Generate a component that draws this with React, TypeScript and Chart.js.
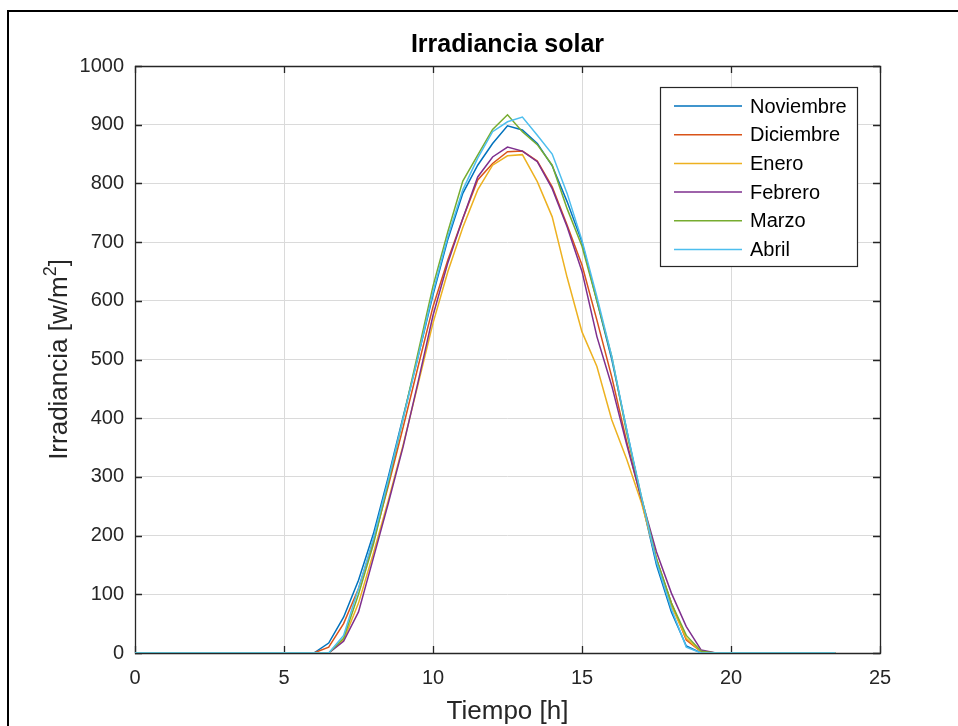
import React, { useEffect, useRef } from "react";
import { Chart, registerables } from "chart.js";

Chart.register(...registerables);

const hours = [
  0, 0.5, 1, 1.5, 2, 2.5, 3, 3.5, 4, 4.5, 5, 5.5, 6, 6.5, 7, 7.5, 8, 8.5, 9, 9.5,
  10, 10.5, 11, 11.5, 12, 12.5, 13, 13.5, 14, 14.5, 15, 15.5, 16, 16.5, 17, 17.5,
  18, 18.5, 19, 19.5, 20, 20.5, 21, 21.5, 22, 22.5, 23, 23.5,
];

const noviembre = [
  0, 0, 0, 0, 0, 0, 0, 0, 0, 0, 0, 0, 0,
  17, 61, 124, 203, 300, 403, 505, 610, 705, 783, 831, 868, 898, 891, 868, 830, 769,
  700, 600, 500, 380, 260, 150, 70, 12,
  0, 0, 0, 0, 0, 0, 0, 0, 0, 0,
];
const diciembre = [
  0, 0, 0, 0, 0, 0, 0, 0, 0, 0, 0, 0, 0,
  10, 50, 110, 190, 285, 385, 488, 590, 670, 740, 806, 834, 854, 855, 838, 794, 729,
  661, 567, 470, 360, 260, 160, 85, 22,
  2, 0, 0, 0, 0, 0, 0, 0, 0, 0,
];
const enero = [
  0, 0, 0, 0, 0, 0, 0, 0, 0, 0, 0, 0, 0,
  0, 22, 85, 170, 260, 355, 458, 562, 650, 725, 789, 831, 847, 849, 803, 743, 640,
  547, 488, 397, 330, 255, 160, 80, 25,
  2, 0, 0, 0, 0, 0, 0, 0, 0, 0,
];
const febrero = [
  0, 0, 0, 0, 0, 0, 0, 0, 0, 0, 0, 0, 0,
  0, 20, 70, 162, 255, 352, 462, 575, 665, 740, 811, 845, 862, 855, 837, 791, 726,
  650, 539, 455, 355, 262, 172, 102, 45,
  5, 0, 0, 0, 0, 0, 0, 0, 0, 0,
];
const marzo = [
  0, 0, 0, 0, 0, 0, 0, 0, 0, 0, 0, 0, 0,
  0, 25, 100, 185, 290, 400, 512, 625, 718, 804, 848, 892, 917, 888, 866, 831, 757,
  693, 600, 505, 375, 265, 160, 85, 30,
  3, 0, 0, 0, 0, 0, 0, 0, 0, 0,
];
const abril = [
  0, 0, 0, 0, 0, 0, 0, 0, 0, 0, 0, 0, 0,
  0, 30, 110, 195, 295, 400, 505, 615, 710, 789, 843, 888, 905, 913, 882, 850, 783,
  703, 607, 505, 380, 265, 155, 75, 10,
  0, 0, 0, 0, 0, 0, 0, 0, 0, 0,
];

const seriesNames = ["Noviembre", "Diciembre", "Enero", "Febrero", "Marzo", "Abril"];
const seriesValues = [noviembre, diciembre, enero, febrero, marzo, abril];
const seriesColors = ["#0072BD", "#D95319", "#EDB120", "#7E2F8E", "#77AC30", "#4DBEEE"];

const xTicks = [0, 5, 10, 15, 20, 25];
const yTicks = [0, 100, 200, 300, 400, 500, 600, 700, 800, 900, 1000];

const titleText = "Irradiancia solar";
const xLabel = "Tiempo [h]";
const yLabelMain = "Irradiancia [w/m";
const yLabelSup = "2";
const yLabelEnd = "]";

const FONT = "'Liberation Sans', Arial, Helvetica, sans-serif";
const AXIS = "#262626";
const GRID = "#dadada";

const decorPlugin = {
  id: "decor",
  beforeDatasetsDraw(chart: any) {
    const { ctx, chartArea: a, scales } = chart;
    ctx.save();
    ctx.strokeStyle = AXIS;
    ctx.lineWidth = 1.3;
    ctx.beginPath();
    ctx.rect(Math.round(a.left) + 0.5, Math.round(a.top) + 0.5, Math.round(a.right - a.left), Math.round(a.bottom - a.top));
    ctx.stroke();
    const tl = 7;
    ctx.beginPath();
    for (const t of xTicks) {
      const x = Math.round(scales.x.getPixelForValue(t)) + 0.5;
      ctx.moveTo(x, a.bottom);
      ctx.lineTo(x, a.bottom - tl);
      ctx.moveTo(x, a.top);
      ctx.lineTo(x, a.top + tl);
    }
    for (const t of yTicks) {
      const y = Math.round(scales.y.getPixelForValue(t)) + 0.5;
      ctx.moveTo(a.left, y);
      ctx.lineTo(a.left + tl, y);
      ctx.moveTo(a.right, y);
      ctx.lineTo(a.right - tl, y);
    }
    ctx.stroke();
    ctx.restore();
  },
  afterDraw(chart: any) {
    const { ctx, chartArea: a } = chart;
    ctx.save();
    // figure frame
    ctx.fillStyle = "#000";
    ctx.fillRect(7, 10, 2, 716);
    ctx.fillRect(7, 10, 951, 2);

    const cx = (a.left + a.right) / 2;
    ctx.fillStyle = "#000";
    ctx.textAlign = "center";
    ctx.textBaseline = "middle";
    ctx.font = `bold 25px ${FONT}`;
    ctx.fillText(titleText, cx, 45);

    ctx.fillStyle = AXIS;
    ctx.font = `26px ${FONT}`;
    ctx.fillText(xLabel, cx, 712);

    // y label with superscript
    ctx.save();
    ctx.translate(58, (a.top + a.bottom) / 2);
    ctx.rotate(-Math.PI / 2);
    const mainFont = `26px ${FONT}`;
    const supFont = `18px ${FONT}`;
    ctx.font = mainFont;
    const w1 = ctx.measureText(yLabelMain).width;
    const w3 = ctx.measureText(yLabelEnd).width;
    ctx.font = supFont;
    const w2 = ctx.measureText(yLabelSup).width;
    const total = w1 + w2 + w3;
    let x0 = -total / 2;
    ctx.textAlign = "left";
    ctx.textBaseline = "alphabetic";
    ctx.font = mainFont;
    ctx.fillText(yLabelMain, x0, 9);
    x0 += w1;
    ctx.font = supFont;
    ctx.fillText(yLabelSup, x0, -2);
    x0 += w2;
    ctx.font = mainFont;
    ctx.fillText(yLabelEnd, x0, 9);
    ctx.restore();

    // legend
    const lx = 660, ly = 87, lw = 197, lh = 179;
    ctx.fillStyle = "#fff";
    ctx.fillRect(lx, ly, lw, lh);
    ctx.strokeStyle = AXIS;
    ctx.lineWidth = 1.2;
    ctx.strokeRect(lx + 0.5, ly + 0.5, lw, lh);
    ctx.font = `20px ${FONT}`;
    ctx.textAlign = "left";
    ctx.textBaseline = "middle";
    seriesNames.forEach((name, i) => {
      const y = 106 + i * 28.7;
      ctx.strokeStyle = seriesColors[i];
      ctx.lineWidth = 1.5;
      ctx.beginPath();
      ctx.moveTo(674, y);
      ctx.lineTo(742, y);
      ctx.stroke();
      ctx.fillStyle = "#000";
      ctx.fillText(name, 750, y + 1);
    });
    ctx.restore();
  },
};

export default function App() {
  const ref = useRef<HTMLCanvasElement | null>(null);

  useEffect(() => {
    const canvas = ref.current;
    if (!canvas) return;
    const datasets = seriesNames.map((name, i) => ({
      label: name,
      data: hours.map((h, j) => ({ x: h, y: seriesValues[i][j] })),
      borderColor: seriesColors[i],
      backgroundColor: seriesColors[i],
      borderWidth: 1.5,
      pointRadius: 0,
      tension: 0,
      fill: false,
      order: seriesNames.length - i,
    }));
    const chart = new Chart(canvas, {
      type: "line",
      data: { datasets },
      options: {
        responsive: false,
        animation: false,
        devicePixelRatio: 1,
        layout: { padding: { left: 0, right: 78, top: 66, bottom: 0 } },
        plugins: {
          legend: { display: false },
          title: { display: false },
          tooltip: { enabled: false },
        },
        scales: {
          x: {
            type: "linear",
            min: 0,
            max: 25,
            afterFit: (s: any) => { s.height = 73; },
            afterBuildTicks: (s: any) => { s.ticks = xTicks.map((v) => ({ value: v })); },
            ticks: { font: { size: 20, family: FONT }, color: AXIS, padding: 13, maxRotation: 0, callback: (v: any) => String(v) },
            grid: { color: GRID, drawTicks: false, lineWidth: 1 },
            border: { display: false },
          },
          y: {
            type: "linear",
            min: 0,
            max: 1000,
            afterFit: (s: any) => { s.width = 135; },
            afterBuildTicks: (s: any) => { s.ticks = yTicks.map((v) => ({ value: v })); },
            ticks: { font: { size: 20, family: FONT }, color: AXIS, padding: 11, callback: (v: any) => String(v) },
            grid: { color: GRID, drawTicks: false, lineWidth: 1 },
            border: { display: false },
          },
        },
      },
      plugins: [decorPlugin],
    });
    return () => chart.destroy();
  }, []);

  return (
    <div style={{ position: "absolute", left: 0, top: 0, width: 958, height: 726, background: "#fff" }}>
      <canvas ref={ref} width={958} height={726} style={{ display: "block" }} />
    </div>
  );
}
